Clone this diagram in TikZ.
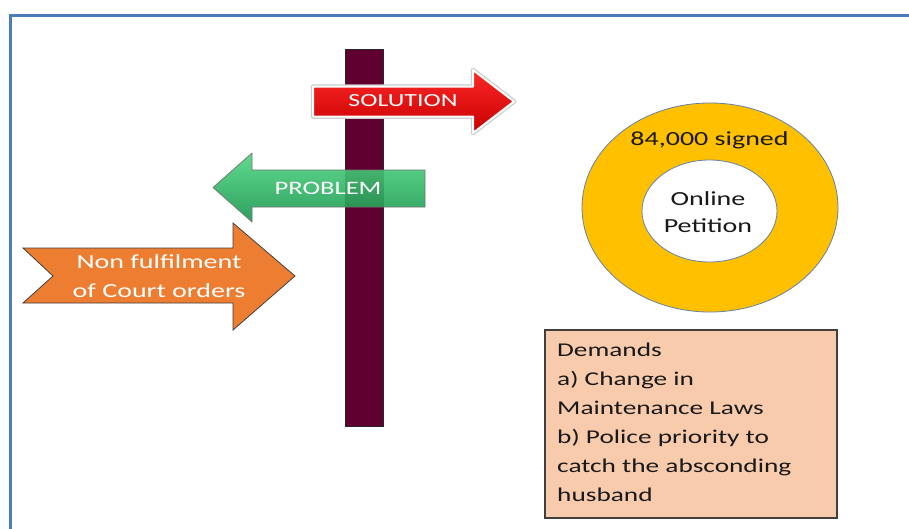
\documentclass[tikz,border=0pt]{standalone}
\usepackage{fontspec}
\setmainfont{Carlito}[FakeStretch=1.4]
\usetikzlibrary{shapes.geometric}
\definecolor{framecol}{RGB}{74,126,187}
\definecolor{postcol}{RGB}{96,0,48}
\definecolor{orangecol}{RGB}{237,125,49}
\definecolor{goldcol}{RGB}{255,192,0}
\definecolor{ringline}{RGB}{100,130,165}
\definecolor{peach}{RGB}{248,203,173}
\definecolor{redtop}{RGB}{252,40,40}
\definecolor{redbot}{RGB}{200,0,0}
\definecolor{greentop}{RGB}{80,215,130}
\definecolor{greenmid}{RGB}{38,200,105}
\definecolor{greenbot}{RGB}{24,150,78}
\tikzset{
  arrowlabel/.style={text=white, inner sep=0pt},
  darklabel/.style={text=black!90, inner sep=0pt},
}
\begin{document}
\begin{tikzpicture}[x=1pt,y=-1pt]
  \useasboundingbox (0,0) rectangle (909,528);
  \fill[white] (0,0) rectangle (909,528);
  \clip (0,0) rectangle (909,528);

  % outer frame, running off the right and bottom edges
  \draw[framecol, line width=3pt] (10.5,540) -- (10.5,15.5) -- (920,15.5);

  % signpost
  \draw[fill=postcol, draw=black!85, line width=0.8pt] (345.5,49.5) rectangle (383.5,426);

  % SOLUTION arrow (right)
  \path[draw=black!20, line width=4.5pt, line join=round]
    (313,86.5) -- (473,86.5) -- (473,70) -- (514,101.5) -- (473,133) -- (473,116.5) -- (313,116.5) -- cycle;
  \path[top color=redtop, bottom color=redbot, draw=white, line width=2pt, line join=round]
    (313,86.5) -- (473,86.5) -- (473,70) -- (514,101.5) -- (473,133) -- (473,116.5) -- (313,116.5) -- cycle;
  \node[arrowlabel, font=\fontsize{18.5}{22}\selectfont] (solution) at (403,101) {SOLUTION};

  % PROBLEM arrow (left), slightly see-through over the post
  \path[top color=greentop, middle color=greenmid, bottom color=greenbot, fill opacity=0.9,
        draw=black!55, line width=0.7pt, line join=round]
    (425,170) -- (252,170) -- (252,153) -- (213,187.5) -- (252,222) -- (252,207) -- (425,207) -- cycle;
  \node[arrowlabel, font=\fontsize{19}{22}\selectfont] (problem) at (328,188.5) {PROBLEM};

  % cause arrow
  \path[fill=orangecol, draw=black!75, line width=0.8pt, line join=miter]
    (23,248) -- (233,248) -- (233,223) -- (295,276) -- (233,330) -- (233,303) -- (23,303) -- (53,276) -- cycle;
  \node[arrowlabel, align=center, font=\fontsize{20}{29}\selectfont, anchor=base] (cause) at (159,297)
    {Non fulfilment\\of Court orders};

  % petition ring
  \node[ellipse, fill=goldcol, draw=ringline, line width=0.8pt, minimum width=256pt, minimum height=209pt, inner sep=0pt]
    (ring) at (710,207.5) {};
  \node[ellipse, fill=white, draw=ringline, line width=0.8pt, minimum width=135pt, minimum height=102pt, inner sep=0pt]
    (hole) at (709.5,211) {};
  \node[darklabel, font=\fontsize{20}{24}\selectfont, anchor=base] (signed) at (709.5,145.5) {84,000 signed};
  \node[darklabel, align=center, font=\fontsize{20}{27.5}\selectfont, anchor=base] (petition) at (708,232.5)
    {Online\\Petition};

  % demands box
  \draw[fill=peach, draw=black!75, line width=1.2pt] (545,330) rectangle (837,518);
  \node[darklabel, align=left, font=\fontsize{19.5}{29}\selectfont, anchor=base west] (demands) at (557,501)
    {Demands\\a) Change in\\Maintenance Laws\\b) Police priority to\\catch the absconding\\husband};
\end{tikzpicture}
\end{document}
